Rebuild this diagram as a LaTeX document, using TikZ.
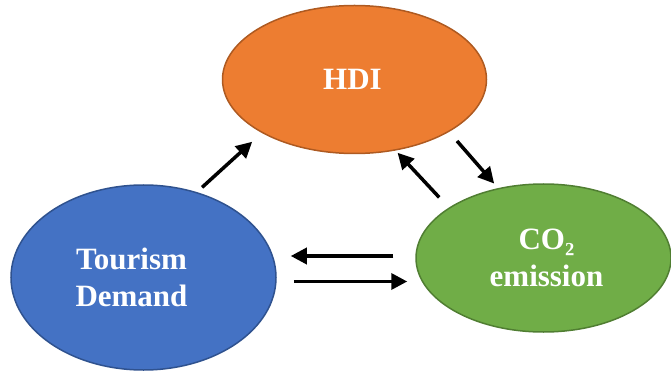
\documentclass[tikz,border=0pt]{standalone}
\usepackage{fontspec}
\setmainfont{Liberation Serif}
\usetikzlibrary{shapes.geometric,arrows.meta,positioning}
\definecolor{hdiorange}{HTML}{ED7D31}
\definecolor{hdiedge}{HTML}{AE5A21}
\definecolor{tdblue}{HTML}{4472C4}
\definecolor{tdedge}{HTML}{2F528F}
\definecolor{cogreen}{HTML}{70AD47}
\definecolor{coedge}{HTML}{507E32}
\begin{document}
\begin{tikzpicture}[x=1pt, y=-1pt,
    blob/.style={ellipse, draw, line width=1.5pt, inner sep=0pt},
    blobtext/.style={align=center, text=white, font=\fontsize{31}{37}\selectfont\bfseries},
    arr/.style={-{Triangle[length=16pt,width=16pt]}, line width=3.5pt}]
  \useasboundingbox (0,0) rectangle (671,371);
  \node[blob, fill=hdiorange, draw=hdiedge, minimum width=264pt, minimum height=148pt] (hdi) at (354.5,79.5) {};
  \node[blob, fill=tdblue, draw=tdedge, minimum width=265pt, minimum height=185pt] (td) at (143.5,277.5) {};
  \node[blob, fill=cogreen, draw=coedge, minimum width=255pt, minimum height=148pt] (co2) at (543.5,258) {};
  \node[blobtext] (hditext) at ([xshift=-2pt]hdi.center) {HDI};
  \node[blobtext] (tdtext) at ([xshift=-12pt]td.center) {Tourism\\Demand};
  \node[blobtext] (co2text) at ([xshift=3pt]co2.center) {CO₂\\emission};

  \draw[arr, shorten <=7pt, shorten >=13pt] (td.58) -- (hdi.210);
  \draw[arr, shorten <=12pt, shorten >=6pt] (hdi.-29) -- (co2.123);
  \draw[arr, shorten <=14pt, shorten >=3pt] (co2.152) -- (hdi.-60);
  \draw[arr, transform canvas={yshift=2pt}, shorten <=22pt, shorten >=14pt] (co2.west) -- (td.east |- co2.west);
  \draw[arr, transform canvas={yshift=-4pt}, shorten <=17pt, shorten >=8pt] (td.east) -- (co2.west |- td.east);
\end{tikzpicture}
\end{document}
